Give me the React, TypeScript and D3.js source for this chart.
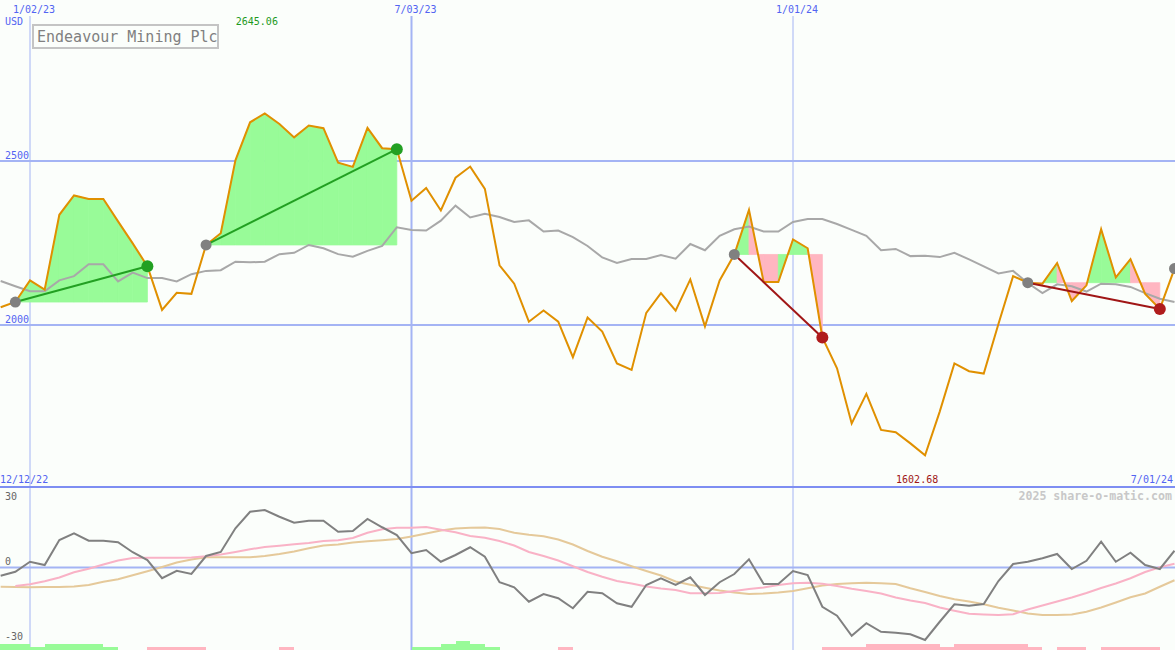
import React from "react";
import * as d3 from "d3";

const W = 1175;
const H = 650;
const WEEK = 7 * 24 * 3600 * 1000;
const startDate = Date.UTC(2022, 11, 19);

const title = "Endeavour Mining Plc";
const currency = "USD";
const rangeStartLabel = "12/12/22";
const rangeEndLabel = "7/01/24";
const watermark = "2025 share-o-matic.com";

const price = [
  2054, 2070, 2136, 2108, 2336, 2395, 2384, 2384, 2316, 2249,
  2179, 2046, 2098, 2095, 2244, 2280, 2502, 2618, 2645.06, 2613,
  2572, 2608, 2600, 2495, 2482, 2601, 2539, 2536, 2379, 2418,
  2349, 2449, 2483, 2415, 2182, 2126, 2010, 2044, 2010, 1902,
  2023, 1980, 1883, 1863, 2037, 2097, 2044, 2139, 1996, 2136,
  2215, 2351, 2131, 2131, 2261, 2234, 1962, 1868, 1700, 1790,
  1680, 1673, 1639, 1602.68, 1736, 1883, 1859, 1852, 2003, 2149,
  2129, 2126, 2189, 2073, 2121, 2292, 2145, 2201, 2095, 2049, 2172,
];

const movingAvg = [
  2134, 2118, 2103, 2103, 2136, 2149, 2185, 2185, 2133, 2160,
  2143, 2143, 2133, 2155, 2165, 2167, 2193, 2191, 2193, 2216,
  2220, 2244, 2234, 2216, 2208, 2226, 2241, 2298, 2290, 2288,
  2318, 2364, 2328, 2339, 2329, 2314, 2319, 2285, 2288, 2268,
  2241, 2206, 2189, 2201, 2201, 2213, 2202, 2247, 2228, 2272,
  2292, 2300, 2285, 2285, 2314, 2323, 2323, 2308, 2290, 2272,
  2228, 2232, 2210, 2211, 2207, 2220, 2200, 2179, 2157, 2165,
  2128, 2097, 2124, 2118, 2102, 2126, 2124, 2116, 2097, 2080, 2070,
];

const momentum = [
  -3.3, -1.7, 2.3, 1.0, 11.0, 13.7, 10.7, 10.7, 10.1, 6.1,
  3.0, -4.3, -1.3, -2.6, 4.6, 6.2, 15.7, 22.3, 23.0, 20.3,
  17.9, 18.7, 18.7, 14.3, 14.6, 19.4, 16.1, 13.0, 5.7, 7.0,
  2.3, 5.0, 8.1, 4.3, -5.9, -7.9, -13.7, -10.6, -12.3, -16.3,
  -9.7, -10.3, -14.3, -15.7, -7.0, -4.3, -7.0, -3.9, -11.0, -5.9,
  -2.6, 3.3, -6.6, -6.6, -1.4, -3.0, -15.7, -19.3, -27.3, -22.3,
  -25.7, -26.1, -26.7, -29.0, -21.7, -14.7, -15.3, -14.6, -5.4, 1.4,
  2.3, 3.7, 5.4, -0.6, 2.7, 10.3, 2.3, 5.9, 1.0, -0.6, 6.7,
];

const momentumFast: (number | null)[] = [
  null, -7.4, -6.7, -5.5, -4.0, -1.9, -0.5, 1.2, 2.8, 3.8,
  3.9, 3.9, 3.9, 4.0, 4.5, 5.2, 6.2, 7.3, 8.2, 8.7,
  9.3, 9.8, 10.6, 10.9, 11.8, 13.9, 15.3, 15.9, 15.9, 16.2,
  15.1, 14.1, 12.6, 11.9, 10.6, 8.8, 6.2, 4.6, 2.8, 0.5,
  -1.8, -3.7, -5.4, -6.4, -7.6, -8.4, -9.0, -10.3, -10.3, -10.2,
  -9.4, -8.6, -8.0, -7.0, -6.3, -6.1, -6.5, -7.4, -8.5, -9.4,
  -10.4, -12.0, -13.2, -14.2, -16.0, -17.3, -18.5, -18.8, -19.0, -18.7,
  -16.8, -15.2, -13.6, -12.0, -10.2, -8.2, -6.4, -4.3, -1.8, 0.1, 1.5,
];

const momentumSlow = [
  -7.7, -7.8, -7.9, -7.8, -7.8, -7.6, -7.0, -5.7, -4.7, -3.1,
  -1.5, 0.2, 2.0, 3.2, 4.1, 4.1, 4.1, 4.1, 4.6, 5.4,
  6.4, 7.7, 8.8, 9.2, 10.0, 10.5, 10.9, 11.4, 12.4, 13.6,
  14.8, 15.6, 15.9, 16.0, 15.4, 13.9, 13.1, 12.5, 11.2, 9.2,
  6.6, 4.3, 2.5, 0.5, -1.4, -3.2, -5.6, -6.9, -8.1, -9.2,
  -10.0, -10.6, -10.4, -10.0, -9.4, -8.3, -7.2, -6.6, -6.3, -6.1,
  -6.3, -6.6, -8.3, -9.8, -11.4, -12.7, -13.6, -14.7, -16.1, -17.2,
  -18.4, -19.0, -19.0, -18.8, -17.7, -16.0, -14.0, -11.9, -10.4, -7.7, -5.1,
];

// signal strength for each weekly segment (i -> i+1); + green, - pink
const signalLevels = [
  2, 2, 1, 2, 2, 2, 2, 1, 0, 0,
  -1, -1, -1, -1, 0, 0, 0, 0, 0, -1,
  0, 0, 0, 0, 0, 0, 0, 0, 1, 1,
  2, 3, 2, 1, 0, 0, 0, 0, -1, 0,
  0, 0, 0, 0, 0, 0, 0, 0, 0, 0,
  0, 0, 0, 0, 0, 0, -1, -1, -1, -2,
  -2, -2, -2, -2, -1, -2, -2, -2, -2, -2,
  -1, 0, -1, -1, 0, -1, -1, -1, -1, 0,
];

const tradeEntries = [1, 14, 50, 70];
const tradeExits = [10, 27, 56, 79];
const openEntries = [80];

const gridDates = [
  new Date(Date.UTC(2023, 0, 2)),
  new Date(Date.UTC(2023, 6, 3)),
  new Date(Date.UTC(2024, 0, 1)),
];
const gridWidths = [1, 2, 1];
const priceTicks = [2000, 2500];
const momentumTicks = [30, 0, -30];

const FONT = "'DejaVu Sans Mono', monospace";
const GRID = "#a4b4f4";
const BLUE_TEXT = "#5264f2";
const GREEN_FILL = "#98fb98";
const PINK_FILL = "#ffb6c1";

const dateOf = (i: number) => new Date(startDate + i * WEEK);

export default function App() {
  const x = d3.scaleUtc().domain([gridDates[0], gridDates[2]]).range([30, 793]);
  const y = d3.scaleLinear().domain([2000, 2500]).range([325, 161]);
  const ym = d3.scaleLinear().domain([-30, 30]).range([642.5, 492.5]);
  const fmtDate = d3.utcFormat("%-m/%d/%y");
  const fmt2 = d3.format(".2f");

  const priceLine = d3
    .line<number>()
    .x((_, i) => x(dateOf(i)))
    .y((d) => y(d));
  const momLine = d3
    .line<number | null>()
    .defined((d) => d != null)
    .x((_, i) => x(dateOf(i)))
    .y((d) => ym(d as number));

  const maxI = d3.maxIndex(price);
  const minI = d3.minIndex(price);

  // trade fills, per segment
  const fills: { d: string; color: string; key: string }[] = [];
  tradeEntries.forEach((e, t) => {
    const ex = tradeExits[t];
    const base = price[e];
    for (let i = e; i < ex; i++) {
      const seg = [i, i + 1];
      const area = d3
        .area<number>()
        .x((j) => x(dateOf(j)))
        .y0(y(base))
        .y1((j) => y(price[j]));
      fills.push({
        d: area(seg) || "",
        color: price[i + 1] >= base ? GREEN_FILL : PINK_FILL,
        key: `f${t}-${i}`,
      });
    }
  });

  return (
    <div style={{ position: "absolute", left: 0, top: 0 }}>
      <svg width={W} height={H} style={{ display: "block", fontFamily: FONT }}>
        <rect x={0} y={0} width={W} height={H} fill="#fbfefb" />

        {/* horizontal price grid */}
        {priceTicks.map((t) => (
          <g key={`pt${t}`}>
            <line x1={0} x2={W} y1={y(t)} y2={y(t)} stroke={GRID} strokeWidth={2} />
            <text x={5} y={y(t) - 2} fontSize={10} fill={BLUE_TEXT}>
              {t}
            </text>
          </g>
        ))}

        {/* momentum zero grid */}
        <line x1={0} x2={W} y1={ym(0)} y2={ym(0)} stroke={GRID} strokeWidth={2} />

        {/* vertical grid */}
        {gridDates.map((d, k) => (
          <g key={`vg${k}`}>
            <line
              x1={x(d)}
              x2={x(d)}
              y1={16}
              y2={H}
              stroke={GRID}
              strokeWidth={gridWidths[k]}
            />
            <text x={x(d) - 17} y={13} fontSize={10} fill={BLUE_TEXT}>
              {fmtDate(d)}
            </text>
          </g>
        ))}

        {/* divider */}
        <line x1={0} x2={W} y1={487} y2={487} stroke="#7e8ef2" strokeWidth={2} />

        {/* trade fills */}
        {fills.map((f) => (
          <path
            key={f.key}
            d={f.d}
            fill={f.color}
            stroke={f.color}
            strokeWidth={0.8}
            strokeLinejoin="round"
          />
        ))}

        {/* moving average */}
        <path
          d={priceLine(movingAvg) || ""}
          fill="none"
          stroke="#a8a8a8"
          strokeWidth={2}
        />

        {/* price */}
        <path d={priceLine(price) || ""} fill="none" stroke="#e09000" strokeWidth={2} />

        {/* trade lines */}
        {tradeEntries.map((e, t) => {
          const ex = tradeExits[t];
          const win = price[ex] >= price[e];
          return (
            <line
              key={`tl${t}`}
              x1={x(dateOf(e))}
              y1={y(price[e])}
              x2={x(dateOf(ex))}
              y2={y(price[ex])}
              stroke={win ? "#22a022" : "#a01616"}
              strokeWidth={2}
            />
          );
        })}

        {/* dots */}
        {tradeEntries.concat(openEntries).map((e, t) => (
          <circle
            key={`en${t}`}
            cx={x(dateOf(e))}
            cy={y(price[e])}
            r={5.5}
            fill="#808080"
          />
        ))}
        {tradeExits.map((ex, t) => {
          const win = price[ex] >= price[tradeEntries[t]];
          return (
            <circle
              key={`ex${t}`}
              cx={x(dateOf(ex))}
              cy={y(price[ex])}
              r={6}
              fill={win ? "#22a022" : "#b01c1c"}
            />
          );
        })}

        {/* labels main */}
        <text x={5} y={25} fontSize={10} fill={BLUE_TEXT}>
          {currency}
        </text>
        <text x={x(dateOf(maxI)) - 29} y={25} fontSize={10} fill="#1e9a1e">
          {fmt2(price[maxI])}
        </text>
        <rect x={33} y={25} width={185} height={23} fill="none" stroke="#c4c4c4" strokeWidth={2} />
        <text x={37} y={41.5} fontSize={15} fill="#808080">
          {title}
        </text>

        <text x={0} y={483} fontSize={10} fill={BLUE_TEXT}>
          {rangeStartLabel}
        </text>
        <text x={1173} y={483} fontSize={10} fill={BLUE_TEXT} textAnchor="end">
          {rangeEndLabel}
        </text>
        <text x={x(dateOf(minI)) - 29} y={483} fontSize={10} fill="#a01616">
          {fmt2(price[minI])}
        </text>
        <text
          x={1172}
          y={500}
          fontSize={11.6}
          fontWeight="bold"
          fill="#c8c8c8"
          textAnchor="end"
        >
          {watermark}
        </text>

        {/* momentum tick labels */}
        {momentumTicks.map((t) => (
          <text
            key={`mt${t}`}
            x={5}
            y={Math.min(Math.max(ym(t) - 2.5, 500), 646)}
            fontSize={10}
            fill="#666666"
          >
            {t}
          </text>
        ))}

        {/* signal bars */}
        {signalLevels.map((lv, i) =>
          lv === 0 ? null : (
            <rect
              key={`sb${i}`}
              x={x(dateOf(i)) - (i === 0 ? 1 : 0)}
              width={x(dateOf(i + 1)) - x(dateOf(i)) + (i === 0 ? 1 : 0)}
              y={H - 3 * Math.abs(lv)}
              height={3 * Math.abs(lv)}
              fill={lv > 0 ? GREEN_FILL : PINK_FILL}
              shapeRendering="crispEdges"
            />
          )
        )}

        {/* momentum lines */}
        <path d={momLine(momentumSlow) || ""} fill="none" stroke="#e5c99a" strokeWidth={2} />
        <path d={momLine(momentumFast) || ""} fill="none" stroke="#f9b2c6" strokeWidth={2} />
        <path d={momLine(momentum) || ""} fill="none" stroke="#808080" strokeWidth={2} />
      </svg>
    </div>
  );
}
